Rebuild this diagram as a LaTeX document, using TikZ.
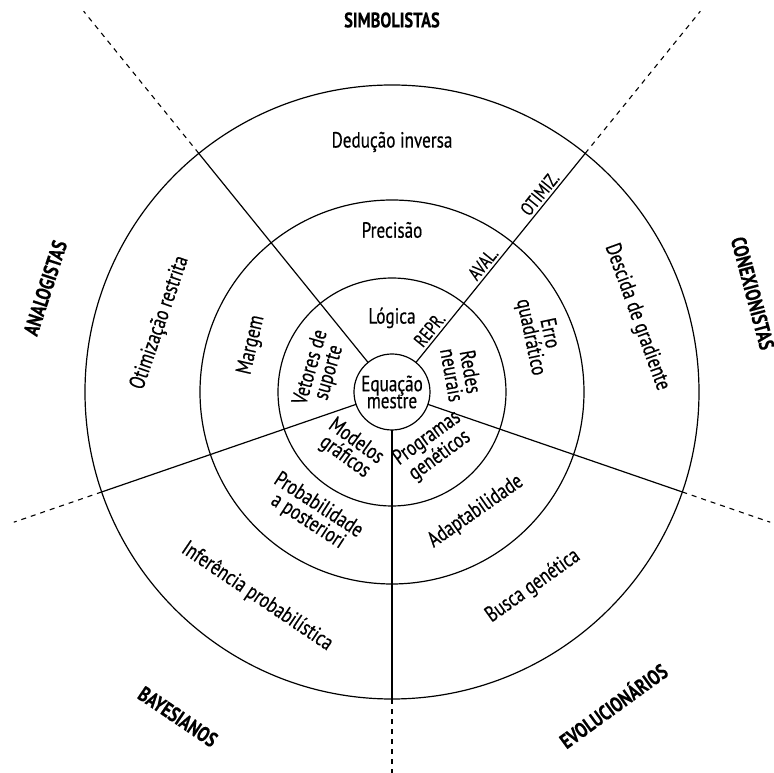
\documentclass[tikz,border=0pt]{standalone}
\usepackage{fontspec}
\setmainfont{PT Sans}[FakeStretch=0.78, FakeBold=0.4]
\begin{document}
\begin{tikzpicture}[x=1pt,y=1pt,
  ring/.style={circle, draw, line width=1.2pt, inner sep=0pt, outer sep=0pt},
  sep/.style={line width=1.2pt},
  ext/.style={line width=1.1pt, dash pattern=on 5pt off 5pt},
  lbl/.style={font=\fontsize{22}{19}\selectfont, align=center, inner sep=0pt},
  school/.style={font=\bfseries\fontsize{21}{21}\selectfont, inner sep=0pt},
  phase/.style={font=\fontsize{19}{19}\selectfont, anchor=south, inner sep=3pt, rotate=51}]
\useasboundingbox (-392,-381) rectangle (382,392);
% rings
\node[ring, minimum size=614pt] (r3) at (0,0) {};
\node[ring, minimum size=384pt] (r2) at (0,0) {};
\node[ring, minimum size=228pt] (r1) at (0,0) {};
\node[ring, lbl, minimum size=76pt] (eq) at (0,0) {Equação\\[-2pt]mestre};
% separators
\coordinate (e1) at (51:490);
\coordinate (e2) at (129:490);
\coordinate (e3) at (-19:400);
\coordinate (e4) at (-161:400);
\coordinate (e5) at (0,-381);
\draw[sep] (eq.51) -- (r3.51);
\draw[sep] (eq.129) -- (r3.129);
\draw[sep] (eq.-19) -- (r3.-19);
\draw[sep] (eq.-161) -- (r3.-161);
\draw[sep] (eq.-90) -- (r3.-90);
\draw[ext] (r3.51) -- (e1);
\draw[ext] (r3.129) -- (e2);
\draw[ext] (r3.-19) -- (e3);
\draw[ext] (r3.-161) -- (e4);
\draw[ext] (r3.-90) -- (e5);
% labels on the separator
\node[phase] (repr) at (51:72) {REPR.};
\node[phase] (aval) at (51:157) {AVAL.};
\node[phase] (otim) at (51:247) {OTIMIZ.};
% inner ring
\node[lbl] (logica) at (90:74) {Lógica};
\node[lbl, rotate=-80] (redes) at (15:72) {Redes\\neurais};
\node[lbl, rotate=74] (vetores) at (163:75) {Vetores de\\suporte};
\node[lbl, rotate=-36] (modelos) at (-126:71) {Modelos\\gráficos};
\node[lbl, rotate=36] (programas) at (-53:69) {Programas\\genéticos};
% middle ring
\node[lbl] (precisao) at (90:162) {Precisão};
\node[lbl, rotate=-78] (erro) at (21:158) {Erro\\quadrático};
\node[lbl, rotate=35] (adapt) at (-55:146) {Adaptabilidade};
\node[lbl, rotate=-33] (prob) at (-123:145) {Probabilidade\\a posteriori};
\node[lbl, rotate=77] (margem) at (161.5:148) {Margem};
% outer ring
\node[lbl] (deducao) at (90:250) {Dedução inversa};
\node[lbl, rotate=-70] (descida) at (17:256) {Descida de gradiente};
\node[lbl, rotate=35.5] (busca) at (-54:240) {Busca genética};
\node[lbl, rotate=-34] (inferencia) at (-123.4:245) {Inferência probabilística};
\node[lbl, rotate=71] (otimizacao) at (163.4:242) {Otimização restrita};
% schools
\node[school] (simb) at (90:372) {SIMBOLISTAS};
\node[school, rotate=-75] (conex) at (15.3:374) {CONEXIONISTAS};
\node[school, rotate=72] (analog) at (163.3:362) {ANALOGISTAS};
\node[school, rotate=-34] (bayes) at (-123.4:389) {BAYESIANOS};
\node[school, rotate=36] (evol) at (-54.8:383) {EVOLUCIONÁRIOS};
\end{tikzpicture}
\end{document}
